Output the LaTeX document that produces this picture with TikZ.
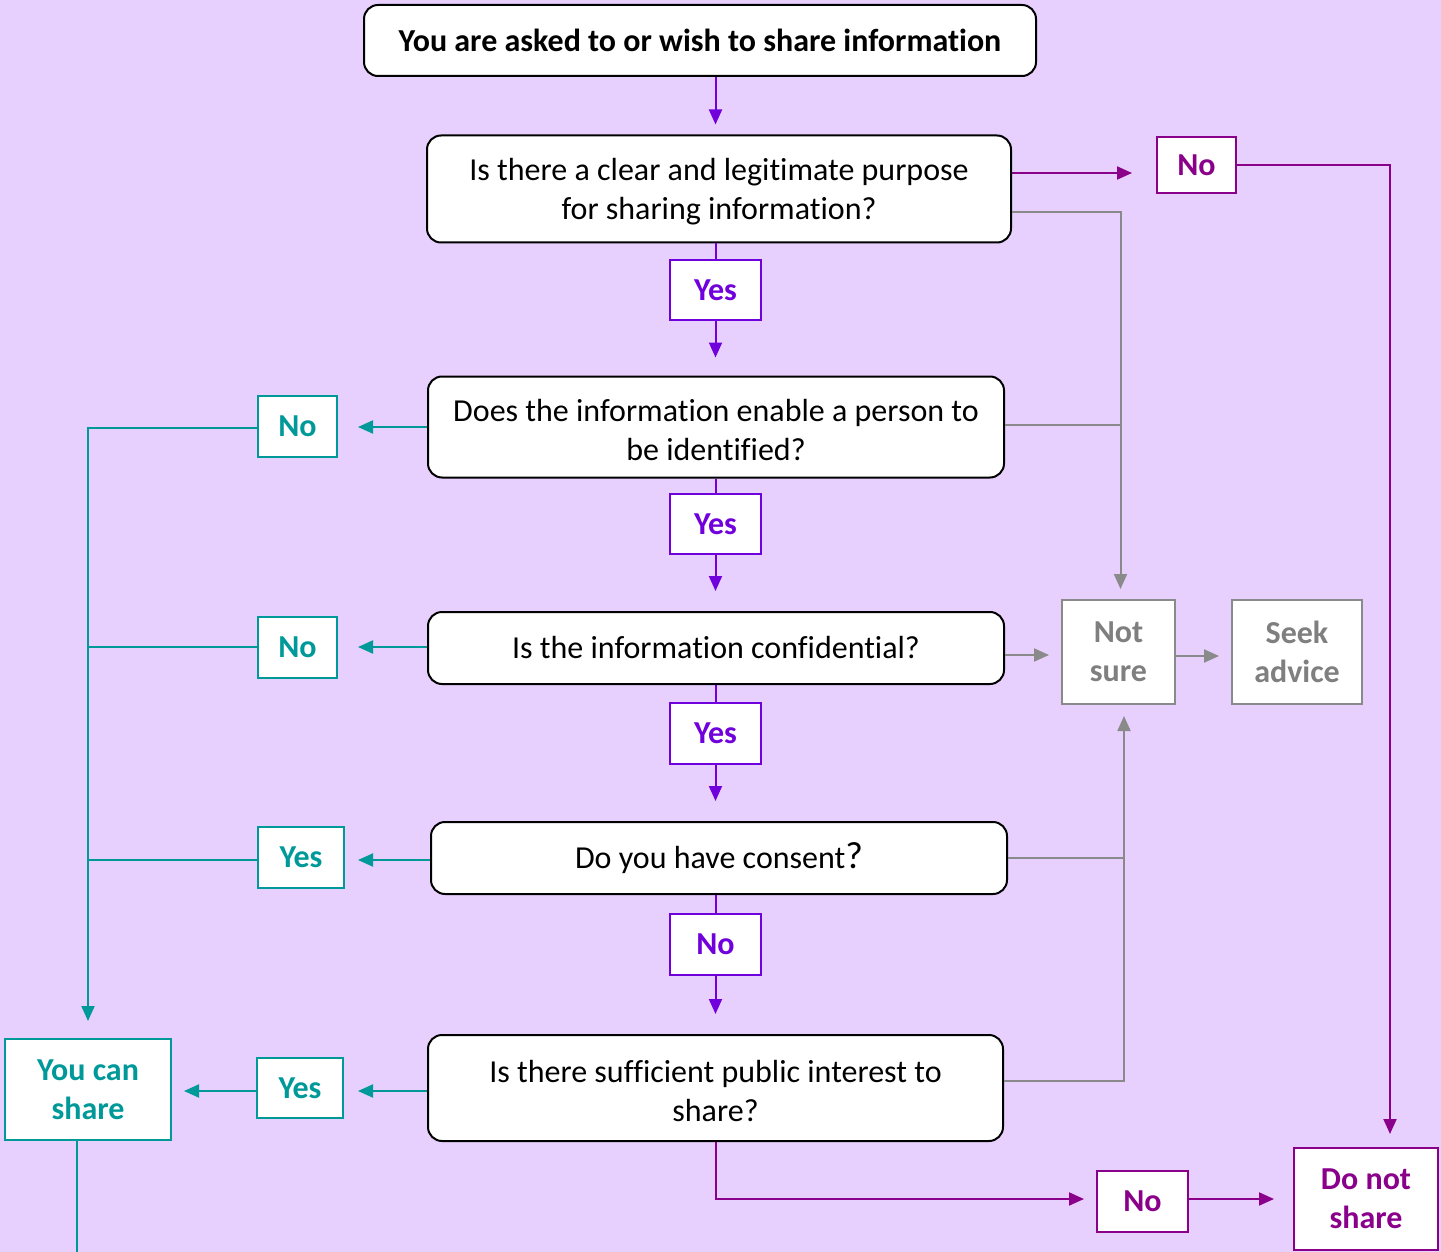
\documentclass[tikz,border=0pt]{standalone}
\usepackage{fontspec}
\setmainfont{Carlito}[Ligatures=NoCommon]
\usetikzlibrary{arrows.meta}
\definecolor{bg}{HTML}{E8D0FE}
\definecolor{pur}{HTML}{7000DC}
\definecolor{mag}{HTML}{8B008B}
\definecolor{teal2}{HTML}{009999}
\definecolor{gry}{HTML}{8A8A8A}
\definecolor{gtxt}{HTML}{7F7F7F}
\begin{document}
\begin{tikzpicture}[x=1pt,y=-1pt,
  q/.style={draw=black, line width=2pt, fill=white, rounded corners=14pt, align=center,
    font=\fontsize{32}{39}\selectfont, inner sep=0pt},
  lab/.style={draw, fill=white, line width=2pt, align=center, inner sep=0pt,
    font=\bfseries\fontsize{32}{39}\selectfont},
  plab/.style={lab, draw=pur, text=pur},
  mlab/.style={lab, draw=mag, text=mag},
  tlab/.style={lab, draw=teal2, text=teal2},
  glab/.style={lab, draw=gry, line width=2pt, text=gtxt},
  tip/.style={-{Triangle[length=15pt,width=13pt]}},
  pl/.style={draw=pur, line width=2pt},
  ml/.style={draw=mag, line width=2pt},
  tl/.style={draw=teal2, line width=2pt},
  gl/.style={draw=gry, line width=2pt},
]
\fill[bg] (0,0) rectangle (1441,1252);
\useasboundingbox (0,0) rectangle (1441,1252);

% main question boxes
\node[q, font=\bfseries\fontsize{32}{39}\selectfont, minimum width=672pt, minimum height=71pt] (title) at (700,40.5) {You are asked to or wish to share information};
\node[q, minimum width=584pt, minimum height=107pt] (q1) at (719,189) {\strut Is there a clear and legitimate purpose\\for sharing information?};
\node[q, minimum width=576pt, minimum height=101pt] (q2) at (716,427) {\strut Does the information enable a person to\\be identified?};
\node[q, minimum width=576pt, minimum height=72pt] (q3) at (716,648) {Is the information confidential?};
\node[q, minimum width=576pt, minimum height=72pt] (q4) at (719,858) {Do you have consent{\fontsize{38}{39}\selectfont ?}};
\node[q, minimum width=575pt, minimum height=106pt] (q5) at (715.5,1088) {\strut Is there sufficient public interest to\\share?};

% purple labels
\node[plab, minimum width=91pt, minimum height=60pt] (y1) at (715.5,290) {Yes};
\node[plab, minimum width=91pt, minimum height=60pt] (y2) at (715.5,524) {Yes};
\node[plab, minimum width=91pt, minimum height=61pt] (y3) at (715.5,733.5) {Yes};
\node[plab, minimum width=91pt, minimum height=61pt] (n4) at (715.5,944.5) {No};

% magenta labels
\node[mlab, minimum width=79pt, minimum height=56pt] (n1) at (1196.5,165) {No};
\node[mlab, minimum width=91pt, minimum height=61pt] (nb) at (1142.5,1201.5) {No};
\node[mlab, minimum width=144pt, minimum height=102pt] (dont) at (1366,1199) {Do not\\share};

% teal labels
\node[tlab, minimum width=79pt, minimum height=61pt] (nl2) at (297.5,426.5) {No};
\node[tlab, minimum width=79pt, minimum height=61pt] (nl3) at (297.5,647.5) {No};
\node[tlab, minimum width=86pt, minimum height=61pt] (yl4) at (301,857.5) {Yes};
\node[tlab, minimum width=86pt, minimum height=60pt] (yl5) at (300,1088) {Yes};
\node[tlab, minimum width=166pt, minimum height=101pt] (can) at (88,1089.5) {You can\\share};

% gray labels
\node[glab, minimum width=113pt, minimum height=104pt] (ns) at (1118.5,652) {Not\\sure};
\node[glab, minimum width=130pt, minimum height=104pt] (seek) at (1297,652) {Seek\\advice};

\coordinate (offb) at (77,1252);

% purple main flow
\draw[pl, tip, shorten >=10pt] (title.south -| y1) -- (q1.north -| y1);
\draw[pl] (q1.south -| y1) -- (y1.north);
\draw[pl, tip, shorten >=18pt] (y1.south) -- (q2.north -| y1);
\draw[pl] (q2.south -| y2) -- (y2.north);
\draw[pl, tip, shorten >=20pt] (y2.south) -- (q3.north -| y2);
\draw[pl] (q3.south -| y3) -- (y3.north);
\draw[pl, tip, shorten >=20pt] (y3.south) -- (q4.north -| y3);
\draw[pl] (q4.south -| n4) -- (n4.north);
\draw[pl, tip, shorten >=20pt] (n4.south) -- (q5.north -| n4);

% magenta
\draw[ml, tip, shorten >=24pt] (q1.east |- 0,173) -- (n1.west |- 0,173);
\draw[ml, tip, shorten >=13pt] (n1.east) -| ([xshift=24pt]dont.north);
\draw[ml, tip, shorten >=12pt] (q5.south -| y1) |- (nb.west |- 0,1199);
\draw[ml, tip, shorten >=19pt] (nb.east |- 0,1199) -- (dont.west |- 0,1199);

% gray
\draw[gl, tip, shorten >=10pt] (q1.east |- 0,212) -| ([xshift=2pt]ns.north);
\draw[gl] (q2.east |- 0,425) -- ([xshift=2pt]ns.north |- 0,425);
\draw[gl, tip, shorten >=12pt] (q3.east |- 0,655) -- (ns.west |- 0,655);
\draw[gl, tip, shorten >=12pt] (ns.east |- 0,656) -- (seek.west |- 0,656);
\draw[gl, tip, shorten >=11pt] (q5.east |- 0,1081) -| ([xshift=5.5pt]ns.south);
\draw[gl] (q4.east) -- ([xshift=5.5pt]ns.south |- q4.east);

% teal
\draw[tl, tip, shorten >=20pt] (q2.west |- 0,427) -- (nl2.east |- 0,427);
\draw[tl, tip, shorten >=17pt] (nl2.west |- 0,428) -| (can.north);
\draw[tl, tip, shorten >=20pt] (q3.west |- 0,647) -- (nl3.east |- 0,647);
\draw[tl] (nl3.west |- 0,647) -- (can.north |- 0,647);
\draw[tl, tip, shorten >=13pt] (q4.west |- 0,860) -- (yl4.east |- 0,860);
\draw[tl] (yl4.west |- 0,860) -- (can.north |- 0,860);
\draw[tl, tip, shorten >=14pt] (q5.west |- 0,1091) -- (yl5.east |- 0,1091);
\draw[tl, tip, shorten >=12pt] (yl5.west |- 0,1091) -- (can.east |- 0,1091);
\draw[tl] (can.south -| offb) -- (offb);
\end{tikzpicture}
\end{document}
